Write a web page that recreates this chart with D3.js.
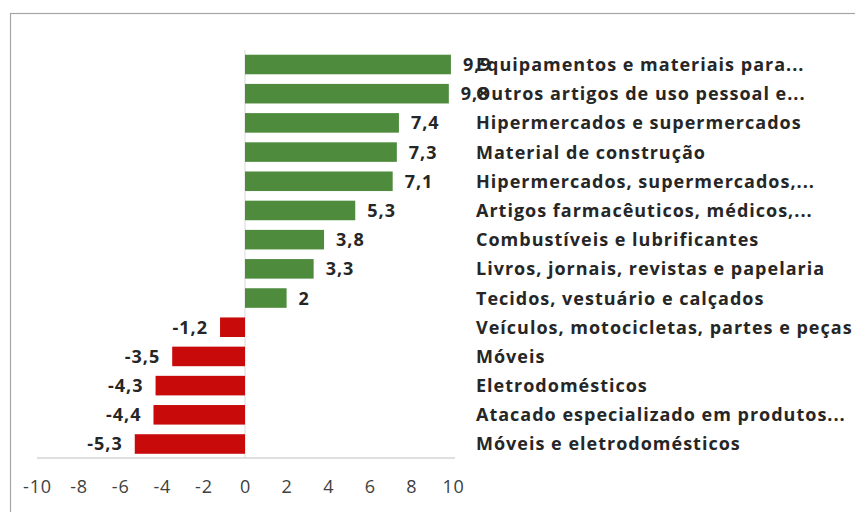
<!DOCTYPE html>
<html>
<head>
<meta charset="utf-8">
<script src="https://cdn.jsdelivr.net/npm/d3@7"></script>
<style>
  body { margin: 0; background: #fff; }
  text { font-family: "Open Sans", "Noto Sans", sans-serif; }
</style>
</head>
<body>
<div id="chart"></div>
<script>
var categories = [
  "Equipamentos e materiais para...",
  "Outros artigos de uso pessoal e...",
  "Hipermercados e supermercados",
  "Material de construção",
  "Hipermercados, supermercados,...",
  "Artigos farmacêuticos, médicos,...",
  "Combustíveis e lubrificantes",
  "Livros, jornais, revistas e papelaria",
  "Tecidos, vestuário e calçados",
  "Veículos, motocicletas, partes e peças",
  "Móveis",
  "Eletrodomésticos",
  "Atacado especializado em produtos...",
  "Móveis e eletrodomésticos"
];
var values = [9.9, 9.8, 7.4, 7.3, 7.1, 5.3, 3.8, 3.3, 2, -1.2, -3.5, -4.3, -4.4, -5.3];
var ticks = [-10, -8, -6, -4, -2, 0, 2, 4, 6, 8, 10];

var width = 855, height = 512;

var svg = d3.select("#chart").append("svg")
    .attr("width", width)
    .attr("height", height);

// outer frame (cut off at right and bottom)
svg.append("rect")
    .attr("x", 10.5).attr("y", 13.5)
    .attr("width", 860).attr("height", 520)
    .attr("fill", "#fff")
    .attr("stroke", "#a6a6a6")
    .attr("stroke-width", 1.2);

var x = d3.scaleLinear()
    .domain([-10, 10])
    .range([37, 453]);

var y = d3.scaleBand()
    .domain(categories)
    .range([49.9, 458.6])
    .paddingInner(0.33)
    .paddingOuter(0.165);

var fmt = function(v) { return String(v).replace(".", ","); };

// zero line
svg.append("line")
    .attr("x1", x(0)).attr("x2", x(0))
    .attr("y1", 50).attr("y2", 458)
    .attr("stroke", "#d9d9d9")
    .attr("stroke-width", 1);

var data = categories.map(function(c, i) { return {name: c, value: values[i]}; });

svg.selectAll(".bar")
    .data(data).enter()
    .append("rect")
    .attr("class", "bar")
    .attr("x", function(d) { return x(Math.min(0, d.value)); })
    .attr("y", function(d) { return y(d.name); })
    .attr("width", function(d) { return Math.abs(x(d.value) - x(0)); })
    .attr("height", y.bandwidth())
    .attr("fill", function(d) { return d.value >= 0 ? "#4e8b3d" : "#c80a0a"; });

// value labels
svg.selectAll(".val")
    .data(data).enter()
    .append("text")
    .attr("class", "val")
    .attr("x", function(d) { return d.value >= 0 ? x(d.value) + 12 : x(d.value) - 12; })
    .attr("y", function(d) { return y(d.name) + y.bandwidth() / 2; })
    .attr("dy", "0.36em")
    .attr("text-anchor", function(d) { return d.value >= 0 ? "start" : "end"; })
    .attr("font-size", 18)
    .attr("font-weight", 700)
    .attr("letter-spacing", 1)
    .attr("fill", "#262626")
    .text(function(d) { return fmt(d.value); });

// category labels
svg.selectAll(".cat")
    .data(data).enter()
    .append("text")
    .attr("class", "cat")
    .attr("x", 476)
    .attr("y", function(d) { return y(d.name) + y.bandwidth() / 2; })
    .attr("dy", "0.36em")
    .attr("font-size", 18)
    .attr("font-weight", 700)
    .attr("letter-spacing", 1)
    .attr("fill", "#262626")
    .text(function(d) { return d.name; });

// x axis
var axis = svg.append("g")
    .attr("transform", "translate(0,458)")
    .call(d3.axisBottom(x).tickValues(ticks).tickSize(0).tickPadding(22)
      .tickFormat(function(d) { return String(d); }));

axis.select(".domain")
    .attr("d", "M" + x(-10) + ",0H" + (x(10) + 2))
    .attr("stroke", "#bfbfbf");

axis.selectAll("text")
    .attr("font-size", 18)
    .attr("letter-spacing", 0.8)
    .attr("fill", "#404040")
    .style("font-family", "'Open Sans', sans-serif");
</script>
</body>
</html>
